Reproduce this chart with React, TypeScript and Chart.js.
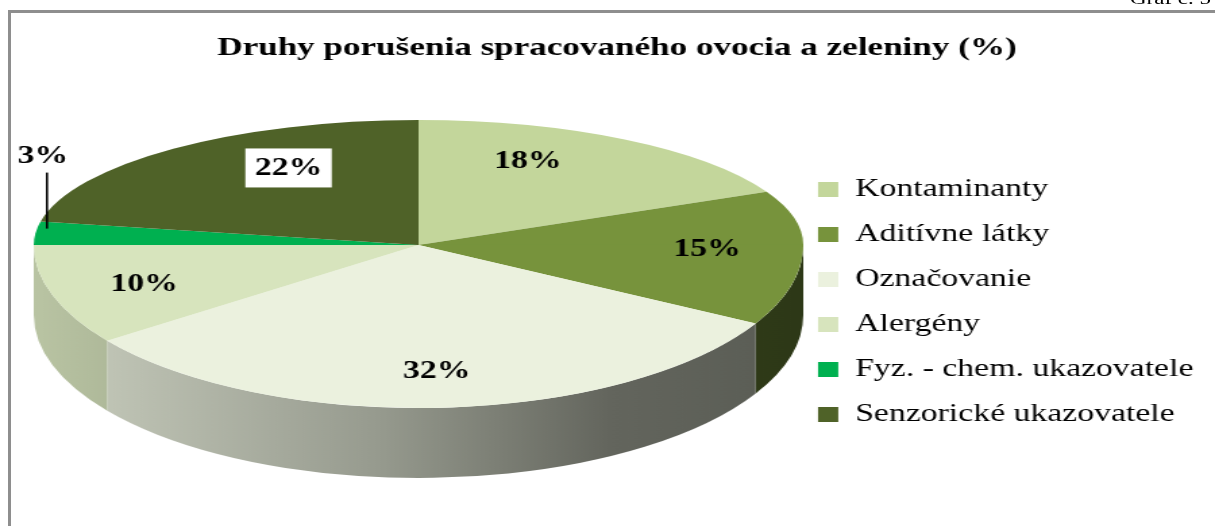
import React, { useEffect, useRef } from 'react';
import { Chart, registerables } from 'chart.js';

Chart.register(...registerables);

const TITLE = 'Druhy porušenia spracovaného ovocia a zeleniny (%)';
const CORNER_NOTE = 'Graf č. 5';
const CATEGORIES = [
  'Kontaminanty',
  'Aditívne látky',
  'Označovanie',
  'Alergény',
  'Fyz. - chem. ukazovatele',
  'Senzorické ukazovatele',
];
const SHARES = [18, 15, 32, 10, 3, 22];
const COLORS = ['#c3d69b', '#77933c', '#ebf1de', '#d7e4bd', '#00b050', '#4f6228'];

const STRETCH = 1.35;
const W = 900;
const H = 526;
const FONT = '"Liberation Serif", "Times New Roman", serif';
const PIE = { cx: 310, cy: 245, r: 285, ryUp: 125, ryDown: 163, depth: 70 };

function hexRgb(hex: string): number[] {
  const h = hex.replace('#', '');
  return [0, 2, 4].map((i) => parseInt(h.slice(i, i + 2), 16));
}
function shade(hex: string, f: number): string {
  const [r, g, b] = hexRgb(hex);
  return `rgb(${Math.round(r * f)},${Math.round(g * f)},${Math.round(b * f)})`;
}
function lum(hex: string): number {
  const [r, g, b] = hexRgb(hex);
  return (0.299 * r + 0.587 * g + 0.114 * b) / 255;
}

const pie3d = {
  id: 'pie3d',
  beforeDatasetsDraw(chart: any) {
    const ctx: CanvasRenderingContext2D = chart.ctx;
    const arcs = chart.getDatasetMeta(0).data as any[];
    if (!arcs.length) return;
    const ox = arcs[0].x;
    const oy = arcs[0].y;
    const R = arcs[0].outerRadius;
    const { cx, cy, ryUp, ryDown, depth } = PIE;
    // 3D rim (front half only)
    arcs.forEach((arc: any) => {
      const a1 = Math.max(arc.startAngle, 0);
      const a2 = Math.min(arc.endAngle, Math.PI);
      if (a2 <= a1) return;
      const col = arc.options.backgroundColor as string;
      const g = ctx.createLinearGradient(cx - R, 0, cx + R, 0);
      g.addColorStop(0, shade(col, 0.86));
      g.addColorStop(0.45, shade(col, 0.64));
      g.addColorStop(0.75, shade(col, 0.42));
      g.addColorStop(1, shade(col, 0.38));
      ctx.save();
      ctx.beginPath();
      ctx.ellipse(cx, cy, R, ryDown, 0, a1, a2);
      ctx.ellipse(cx, cy + depth, R, ryDown, 0, a2, a1, true);
      ctx.closePath();
      ctx.fillStyle = g;
      ctx.fill();
      ctx.restore();
    });
    // top face, far half flatter than the near half
    const halves: number[][] = [
      [0, cy + 0.5, ryUp],
      [cy - 0.5, H, ryDown],
    ];
    halves.forEach(([y0, y1, ry]) => {
      ctx.save();
      ctx.beginPath();
      ctx.rect(0, y0, chart.width, y1 - y0);
      ctx.clip();
      ctx.translate(cx, cy);
      ctx.scale(1, ry / R);
      ctx.translate(-ox, -oy);
      arcs.forEach((a: any) => a.draw(ctx));
      ctx.restore();
    });
    return false;
  },
  afterDraw(chart: any) {
    const ctx: CanvasRenderingContext2D = chart.ctx;
    const arcs = chart.getDatasetMeta(0).data as any[];
    const values = chart.data.datasets[0].data as number[];
    const colors = chart.data.datasets[0].backgroundColor as string[];
    const R = arcs[0].outerRadius;
    const { cx, cy, ryUp, ryDown } = PIE;
    ctx.save();
    ctx.font = `bold 25px ${FONT}`;
    ctx.textAlign = 'center';
    ctx.textBaseline = 'middle';
    arcs.forEach((arc: any, i: number) => {
      const v = values[i];
      const text = `${v}%`;
      const mid = (arc.startAngle + arc.endAngle) / 2;
      const c = Math.cos(mid);
      const s = Math.sin(mid);
      const far = s < 0;
      const ry = far ? ryUp : ryDown;
      if (v < 5) {
        const px = cx + 0.97 * R * c;
        const py = cy + 0.97 * ry * s - 5;
        ctx.strokeStyle = '#000';
        ctx.lineWidth = 1.6;
        ctx.beginPath();
        ctx.moveTo(px, py);
        ctx.lineTo(px, py - 56);
        ctx.stroke();
        ctx.fillStyle = '#000';
        ctx.fillText(text, px - 3, py - 72);
      } else {
        // perspective: labels on the far half are pulled toward the centre
        const fx = far ? 0.53 : 0.75;
        const fy = far ? 0.8 : 0.77;
        const x = cx + fx * R * c;
        const y = cy + fy * ry * s;
        if (lum(colors[i]) < 0.4) {
          const tw = ctx.measureText(text).width;
          ctx.fillStyle = '#ffffff';
          ctx.fillRect(x - tw / 2 - 7, y - 19.5, tw + 14, 39);
        }
        ctx.fillStyle = '#000';
        ctx.fillText(text, x, y + 1);
      }
    });
    ctx.restore();
  },
};

export default function App() {
  const ref = useRef<HTMLCanvasElement | null>(null);
  useEffect(() => {
    if (!ref.current) return;
    const chart = new Chart(ref.current, {
      type: 'pie',
      data: {
        labels: CATEGORIES,
        datasets: [
          {
            data: SHARES,
            backgroundColor: COLORS,
            borderWidth: 0,
            radius: PIE.r,
          } as any,
        ],
      },
      options: {
        responsive: false,
        animation: false,
        events: [],
        radius: PIE.r,
        layout: { padding: { left: 20, right: 6, top: 0, bottom: 0 } },
        plugins: {
          tooltip: { enabled: false },
          title: {
            display: true,
            text: TITLE,
            color: '#000',
            font: { family: FONT, size: 26, weight: 'bold' },
            padding: { top: 33, bottom: 14 },
          },
          legend: {
            position: 'right',
            align: 'center',
            fullSize: false,
            labels: {
              color: '#000',
              font: { family: FONT, size: 25 },
              boxWidth: 15,
              boxHeight: 15,
              padding: 20,
            },
          },
        },
      } as any,
      plugins: [pie3d],
    });
    return () => chart.destroy();
  }, []);

  return (
    <div>
      <div
        style={{
          position: 'fixed',
          left: 8,
          top: 10,
          width: 1300,
          height: 600,
          borderLeft: '3px solid #8e8e8e',
          borderTop: '3px solid #8e8e8e',
          boxSizing: 'border-box',
        }}
      />
      <div
        style={{
          position: 'fixed',
          left: 1130,
          top: -11,
          fontFamily: FONT,
          fontSize: 17,
          whiteSpace: 'nowrap',
          transform: `scaleX(${STRETCH})`,
          transformOrigin: '0 0',
          color: '#000',
        }}
      >
        {CORNER_NOTE}
      </div>
      <div
        style={{
          position: 'fixed',
          left: 0,
          top: 0,
          width: W,
          height: H,
          transform: `scaleX(${STRETCH})`,
          transformOrigin: '0 0',
        }}
      >
        <canvas ref={ref} width={W} height={H} />
      </div>
    </div>
  );
}
